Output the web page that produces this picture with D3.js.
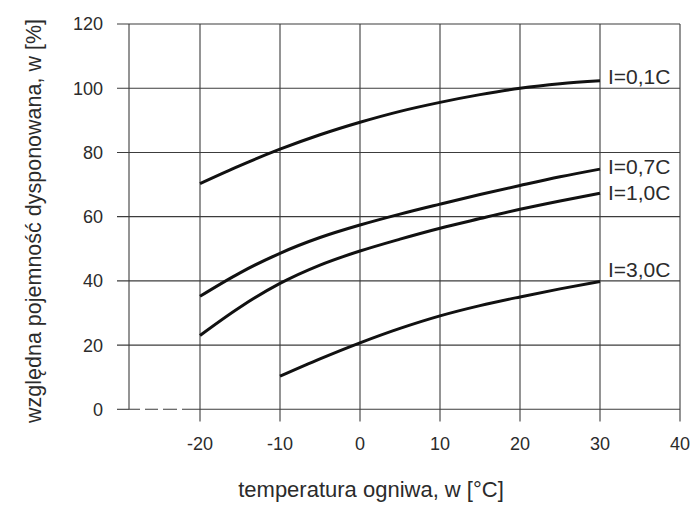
<!DOCTYPE html>
<html>
<head>
<meta charset="utf-8">
<script src="https://cdn.jsdelivr.net/npm/d3@7"></script>
<style>
  body { margin: 0; background: #fff; }
  text { font-family: "Liberation Sans", Arial, sans-serif; fill: #2b2b2b; }
</style>
</head>
<body>
<svg id="chart" width="700" height="506"></svg>
<script>
// values
const xTicks = [-20, -10, 0, 10, 20, 30, 40]
const yTicks = [0, 20, 40, 60, 80, 100, 120]

const temps = [-20, -15, -10, -5, 0, 5, 10, 15, 20, 25, 30]
const cap01 = [70.3, 75.9, 81.0, 85.5, 89.4, 92.8, 95.6, 98.0, 100.0, 101.4, 102.3]
const cap07 = [35.2, 42.5, 48.6, 53.5, 57.4, 60.8, 63.9, 66.9, 69.7, 72.4, 74.8]
const cap10 = [23.0, 31.8, 39.2, 44.9, 49.3, 53.0, 56.4, 59.4, 62.3, 64.9, 67.3]
const cap30 = [null, null, 10.3, 15.7, 20.7, 25.2, 29.1, 32.3, 35.0, 37.5, 39.8]

const labels = ["I=0,1C", "I=0,7C", "I=1,0C", "I=3,0C"]
const labelY = [84, 174, 200, 277]

const series = [cap01, cap07, cap10, cap30].map((cap, i) => ({
  label: labels[i],
  labelY: labelY[i],
  pts: temps.map((t, j) => [t, cap[j]]).filter(d => d[1] != null)
}))

const svg = d3.select("#chart")

const x = d3.scaleLinear().domain([-30, 40]).range([120, 680])
const y = d3.scaleLinear().domain([0, 120]).range([409.3, 24])

const leftX = 129      // left frame line
const tickLeft = 117   // horizontal lines stick out to here
const tickDown = 421.5 // vertical lines stick out to here

const grid = svg.append("g")
    .attr("stroke", "#3c3c3c")
    .attr("stroke-width", 1.1)
    .attr("fill", "none")

// horizontal grid (0 line is partly dashed, done below)
grid.selectAll("line.h")
    .data(yTicks.filter(d => d > 0))
    .join("line")
    .attr("class", "h")
    .attr("x1", tickLeft)
    .attr("x2", x(40))
    .attr("y1", d => y(d))
    .attr("y2", d => y(d))

grid.append("line")
    .attr("x1", tickLeft).attr("x2", leftX)
    .attr("y1", y(0)).attr("y2", y(0))
grid.append("line")
    .attr("x1", leftX).attr("x2", x(-20))
    .attr("y1", y(0)).attr("y2", y(0))
    .attr("stroke-dasharray", "11,5,13,5,14,5,18")
grid.append("line")
    .attr("x1", x(-20)).attr("x2", x(40))
    .attr("y1", y(0)).attr("y2", y(0))

// vertical grid
grid.selectAll("line.v")
    .data(xTicks)
    .join("line")
    .attr("class", "v")
    .attr("x1", d => x(d))
    .attr("x2", d => x(d))
    .attr("y1", y(120))
    .attr("y2", tickDown)

grid.append("line")
    .attr("x1", leftX).attr("x2", leftX)
    .attr("y1", y(120)).attr("y2", y(0))

// tick labels
svg.append("g").selectAll("text")
    .data(yTicks)
    .join("text")
    .attr("x", 103)
    .attr("y", d => y(d))
    .attr("dy", "0.36em")
    .attr("text-anchor", "end")
    .style("font-size", "18px")
    .text(d => d)

svg.append("g").selectAll("text")
    .data(xTicks)
    .join("text")
    .attr("x", d => x(d))
    .attr("y", 450)
    .attr("text-anchor", "middle")
    .style("font-size", "18px")
    .text(d => d)

// curves
const line = d3.line()
    .x(d => x(d[0]))
    .y(d => y(d[1]))
    .curve(d3.curveMonotoneX)

svg.append("g").selectAll("path")
    .data(series)
    .join("path")
    .attr("d", s => line(s.pts))
    .attr("fill", "none")
    .attr("stroke", "#111")
    .attr("stroke-width", 3)

svg.append("g").selectAll("text")
    .data(series)
    .join("text")
    .attr("x", 608)
    .attr("y", s => s.labelY)
    .style("font-size", "21px")
    .text(s => s.label)

// axis titles
svg.append("text")
    .attr("x", 371)
    .attr("y", 497)
    .attr("text-anchor", "middle")
    .style("font-size", "22px")
    .text("temperatura ogniwa, w [°C]")

svg.append("text")
    .attr("transform", "translate(41,221) rotate(-90)")
    .attr("text-anchor", "middle")
    .style("font-size", "21.5px")
    .text("względna pojemność dysponowana, w [%]")
</script>
</body>
</html>
